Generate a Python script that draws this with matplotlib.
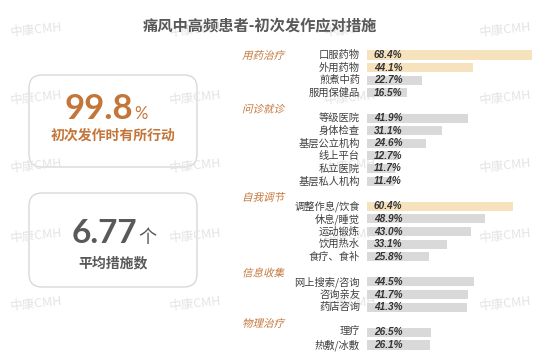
import numpy as np
import matplotlib
matplotlib.use('Agg')
import matplotlib.pyplot as plt
from matplotlib.patches import FancyBboxPatch, PathPatch
from matplotlib.textpath import TextPath
from matplotlib.font_manager import FontProperties
from matplotlib.transforms import Affine2D, ScaledTranslation

plt.rcParams['font.family'] = ['Noto Sans CJK SC', 'DejaVu Sans']

# data
groups = ['用药治疗', '问诊就诊', '自我调节', '信息收集', '物理治疗']
items = [
    ['口服药物', '外用药物', '煎煮中药', '服用保健品'],
    ['等级医院', '身体检查', '基层公立机构', '线上平台', '私立医院', '基层私人机构'],
    ['调整作息/饮食', '休息/睡觉', '运动锻炼', '饮用热水', '食疗、食补'],
    ['网上搜索/咨询', '咨询亲友', '药店咨询'],
    ['理疗', '热敷/冰敷'],
]
values = [
    [68.4, 44.1, 22.7, 16.5],
    [41.9, 31.1, 24.6, 12.7, 11.7, 11.4],
    [60.4, 48.9, 43.0, 33.1, 25.8],
    [44.5, 41.7, 41.3],
    [26.5, 26.1],
]
highlight = ['口服药物', '外用药物', '调整作息/饮食']
title = '痛风中高频患者-初次发作应对措施'
kpi1_value, kpi1_unit, kpi1_label = '99.8', '%', '初次发作时有所行动'
kpi2_value, kpi2_unit, kpi2_label = '6.77', '个', '平均措施数'

ORANGE = '#C4763A'
GRAY_TXT = '#595959'
W, H = 558, 362

fig = plt.figure(figsize=(W / 100, H / 100), dpi=100)

# background layer in pixel coords
bg = fig.add_axes([0, 0, 1, 1], zorder=0)
bg.set_xlim(0, W)
bg.set_ylim(H, 0)
bg.axis('off')

wm_x = [36, 195, 350, 505]
wm_y = [30, 98, 166, 236, 304]
for yy in wm_y:
    for xx in wm_x:
        bg.text(xx, yy, '中康CMH', fontsize=9, color='#E4E4E4', rotation=6,
                ha='center', va='center', family=['Noto Sans CJK SC', 'DejaVu Sans'])

bg.text(260, 26, title, fontsize=11, fontweight='bold', color=GRAY_TXT,
        ha='center', va='center')

for top, bot in [(75, 167), (193, 287)]:
    bg.add_patch(FancyBboxPatch((29, top), 168, bot - top,
                                boxstyle='round,pad=0,rounding_size=13',
                                fc='white', ec='#D2D2D2', lw=1.0, alpha=0.85))

bg.text(133, 119, kpi1_value, fontsize=25, fontweight='bold', color=ORANGE,
        family='Lato', ha='right', va='baseline')
bg.text(134, 119, kpi1_unit, fontsize=12, color=ORANGE,
        family='Lato', ha='left', va='baseline')
bg.text(113, 136, kpi1_label, fontsize=10, fontweight='bold', color=ORANGE,
        ha='center', va='center')

bg.text(137, 243, kpi2_value, fontsize=24, fontweight='bold', color=GRAY_TXT,
        family='Lato', ha='right', va='baseline')
bg.text(138, 243, kpi2_unit, fontsize=13, color=GRAY_TXT,
        ha='left', va='baseline')
bg.text(113, 263, kpi2_label, fontsize=10, fontweight='bold', color=GRAY_TXT,
        ha='center', va='center')

# bars
row_px = 290 / 23
top_px = 55 - row_px / 2
ax_h = 24 * row_px
ax = fig.add_axes([367 / W, (H - top_px - ax_h) / H, 241.2 / W, ax_h / H], zorder=1)
ax.patch.set_alpha(0)
ax.set_xlim(0, 100)
ax.set_ylim(23.5, -0.5)
ax.axis('off')

hdr_prop = FontProperties(family='Noto Sans CJK SC', weight='normal')
slot = 0
for g, names, vals in zip(groups, items, values):
    hy = slot if slot == 0 else slot - 0.75
    tp = TextPath((0, 0), g, size=10.5, prop=hdr_prop)
    tr = Affine2D().translate(0, -4).skew_deg(14, 0) + ScaledTranslation(-51.4, hy, ax.transData)
    fig.add_artist(PathPatch(tp, transform=tr, fc=ORANGE, ec='none', zorder=3))
    for n, v in zip(names, vals):
        c = '#F7E2BE' if n in highlight else '#D9D9D9'
        ax.barh(slot, v, height=0.72, color=c)
        ax.text(-2.9, slot, n, ha='right', va='center', fontsize=7.4,
                color='#404040', clip_on=False)
        ax.text(2.9, slot, f'{v:.1f}%', ha='left', va='center', fontsize=7.2,
                fontweight='bold', fontstyle='italic', family='Liberation Sans',
                color='#333333')
        slot += 1
    slot += 1

fig.savefig('out.png', dpi=100)
